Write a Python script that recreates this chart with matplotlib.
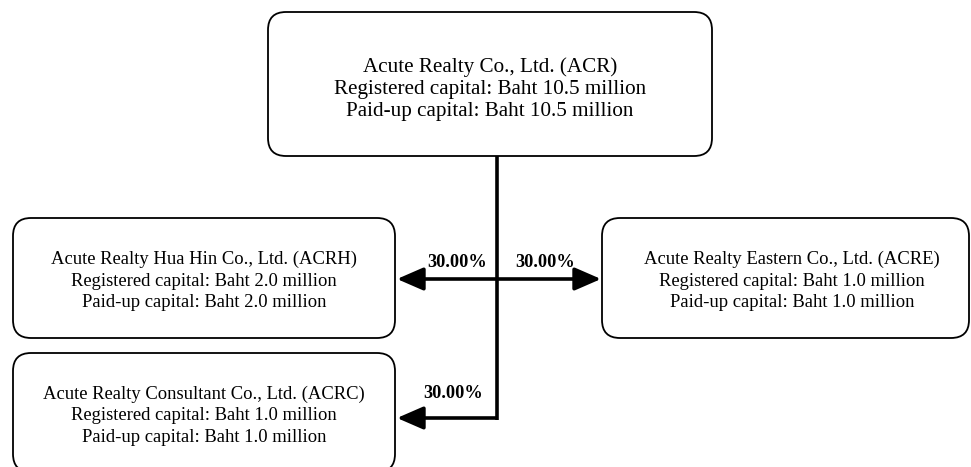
import matplotlib.pyplot as plt
from matplotlib.patches import FancyBboxPatch

plt.rcParams['font.family'] = ['Liberation Serif', 'DejaVu Serif']

# Datos del organigrama
parent_name = "Acute Realty Co., Ltd. (ACR)"
parent_registered = 10.5
parent_paid = 10.5

sub_names = ["Acute Realty Hua Hin Co., Ltd. (ACRH)",
             "Acute Realty Eastern Co., Ltd. (ACRE)",
             "Acute Realty Consultant Co., Ltd. (ACRC)"]
sub_registered = [2.0, 1.0, 1.0]
sub_paid = [2.0, 1.0, 1.0]
sub_share = [30.00, 30.00, 30.00]

# Cajas (x0, y0, x1, y1) en pixeles
parent_box = (268, 12, 712, 156)
sub_boxes = [(13, 218, 395, 338), (602, 218, 969, 338), (13, 353, 395, 472)]
# centro x y linea base de la primera linea de texto
text_x = [204, 792, 204]
text_base = [264, 264, 399]
# posicion de la flecha (y) y de la etiqueta
arrow_y = [279, 279, 418]
label_pos = [(457, 267), (545, 267), (453, 398)]
trunk_x = 497

fig = plt.figure(figsize=(9.71, 4.67), dpi=100)
ax = fig.add_axes([0, 0, 1, 1])
ax.set_xlim(0, 971)
ax.set_ylim(467, 0)
ax.axis('off')


def box(b):
    x0, y0, x1, y1 = b
    r = 18
    ax.add_patch(FancyBboxPatch((x0 + r, y0 + r), x1 - x0 - 2 * r, y1 - y0 - 2 * r,
                                boxstyle=f"round,pad={r},rounding_size={r}",
                                fc='white', ec='black', lw=1.3, zorder=2))


def text_lines(cx, y0, lines, size, spacing):
    for i, t in enumerate(lines):
        ax.text(cx, y0 + i * spacing, t, ha='center', va='baseline',
                fontsize=size, zorder=3)


box(parent_box)
text_lines((parent_box[0] + parent_box[2]) / 2, 72,
           [parent_name,
            f"Registered capital: Baht {parent_registered:.1f} million",
            f"Paid-up capital: Baht {parent_paid:.1f} million"], 15.2, 22)

for i, name in enumerate(sub_names):
    box(sub_boxes[i])
    text_lines(text_x[i], text_base[i],
               [name,
                f"Registered capital: Baht {sub_registered[i]:.1f} million",
                f"Paid-up capital: Baht {sub_paid[i]:.1f} million"], 13.4, 21.5)

# tronco vertical
ax.plot([trunk_x, trunk_x], [parent_box[3], arrow_y[2] + 1.5], color='black',
        lw=2.6, solid_capstyle='butt', zorder=1)

targets = [sub_boxes[0][2] + 2, sub_boxes[1][0] - 1, sub_boxes[2][2] + 2]
for i in range(3):
    start = trunk_x - 1.3 if i != 1 else trunk_x + 1.3
    ax.annotate("", xy=(targets[i], arrow_y[i]), xytext=(start, arrow_y[i]),
                arrowprops=dict(arrowstyle="-|>,head_length=1.15,head_width=0.5",
                                lw=2.6, color='black', shrinkA=0, shrinkB=0,
                                mutation_scale=14), zorder=1)
    ax.text(label_pos[i][0], label_pos[i][1], f"{sub_share[i]:.2f}%",
            ha='center', va='baseline', fontsize=13.2, fontweight='bold')

fig.savefig('out.png', dpi=100)
